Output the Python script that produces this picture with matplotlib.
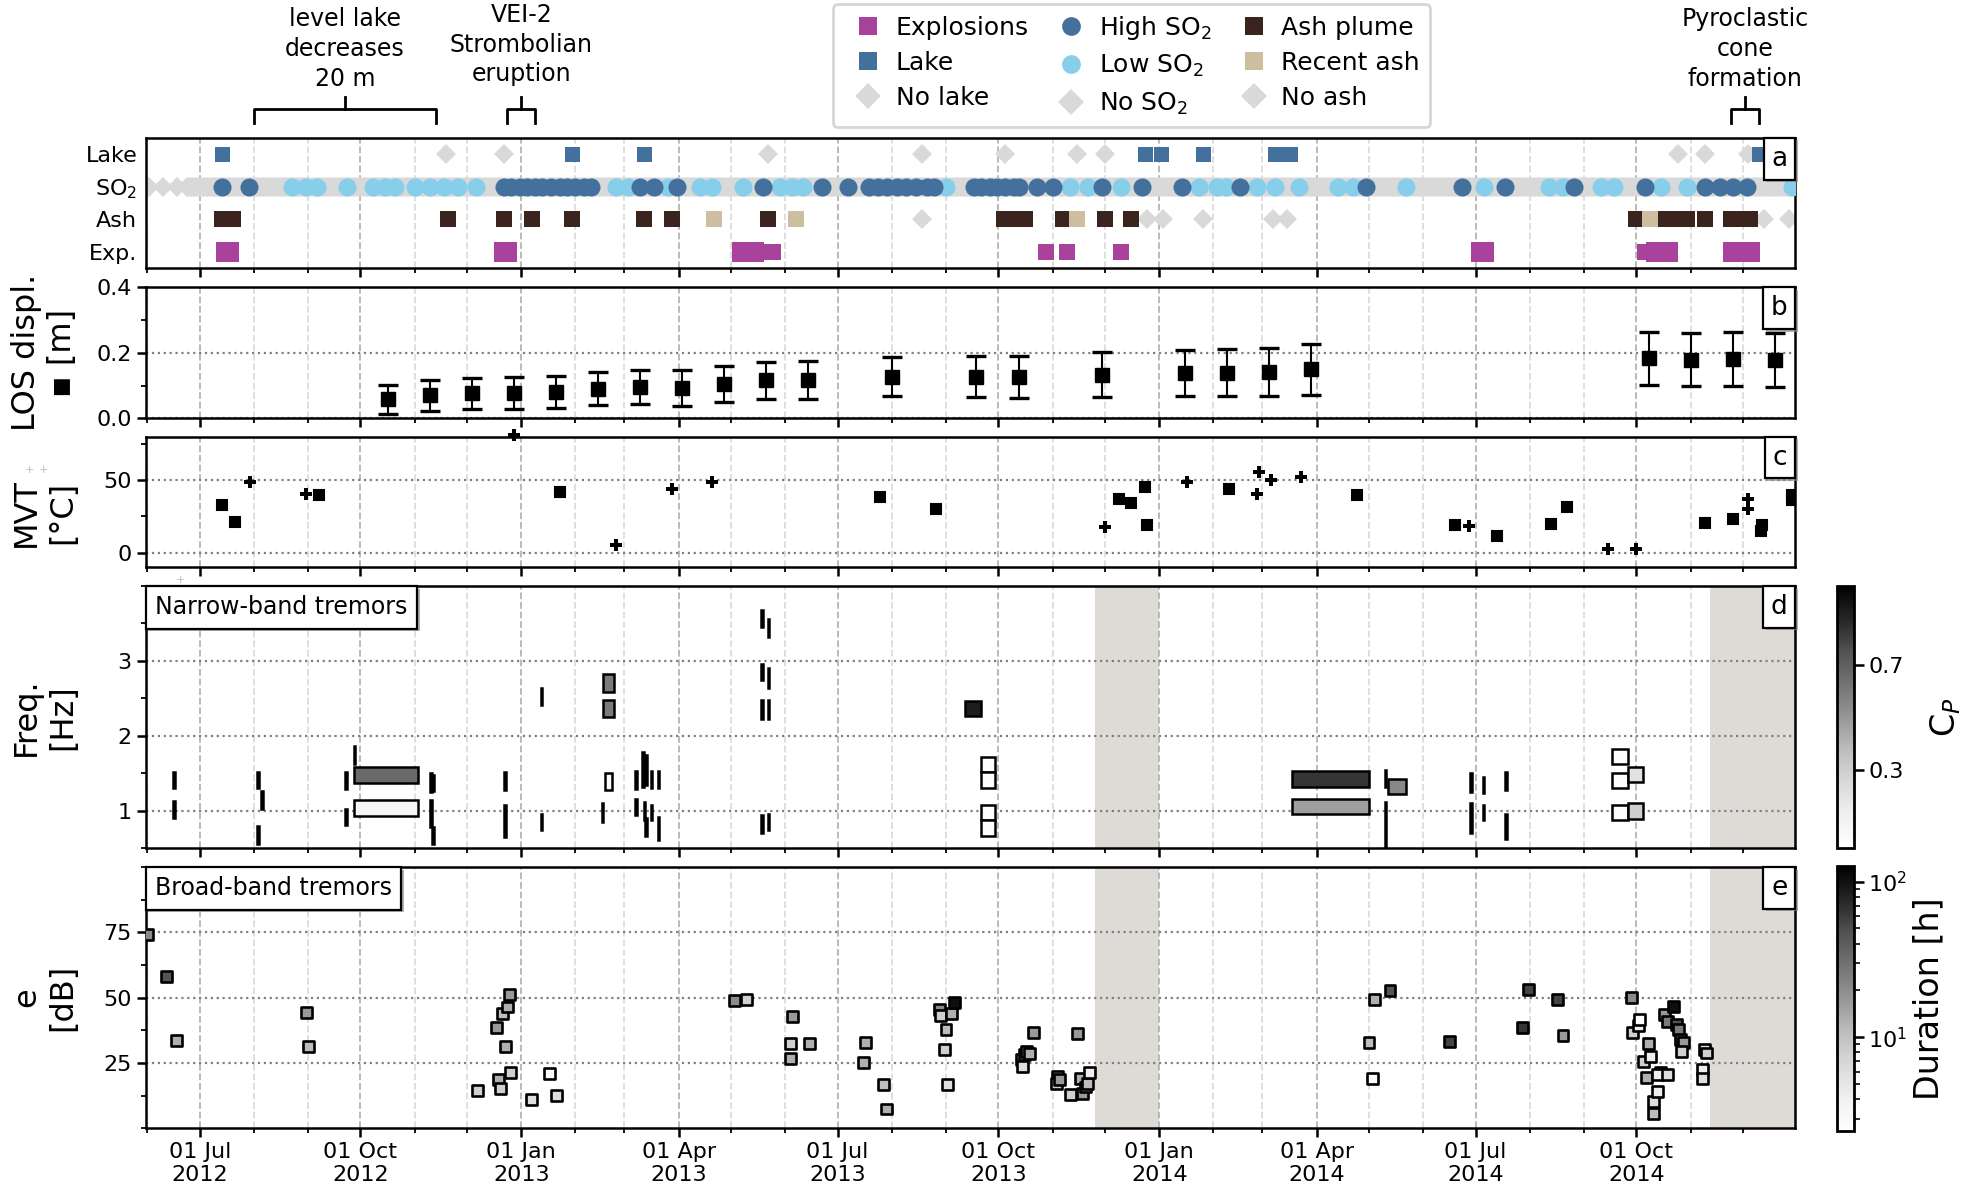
import matplotlib
matplotlib.use('Agg')
import matplotlib.pyplot as plt
import matplotlib.dates as mdates
import matplotlib.transforms as mtransforms
import matplotlib.patheffects as pe
from matplotlib.patches import Rectangle
from matplotlib.lines import Line2D
from matplotlib.colors import LogNorm, Normalize
from matplotlib.ticker import MultipleLocator
from matplotlib.offsetbox import AnchoredText
import pandas as pd

plt.rcParams['font.family'] = ['DejaVu Sans']
plt.rcParams['axes.linewidth'] = 1.8

# colours
EXP_C = '#A8429A'
BLUE = '#44709D'
SKY = '#87CEEB'
GRAY = '#D9D9D9'
ASH = '#3B241E'
TAN = '#CDBE9F'
SPAN = '#DEDBD6'

# ---------------- panel a : observations
lake_dates = ['2012-07-14', '2013-01-30', '2013-03-12', '2013-12-24', '2014-01-02',
              '2014-01-26', '2014-03-08', '2014-03-17', '2014-12-10']
no_lake_dates = ['2012-11-19', '2012-12-22', '2013-05-22', '2013-08-18', '2013-10-05',
                 '2013-11-15', '2013-12-01', '2014-10-25', '2014-11-09', '2014-12-04']
so2_high = ['2012-07-14', '2012-07-29', '2012-12-22', '2012-12-26', '2012-12-31', '2013-01-04',
            '2013-01-09', '2013-01-13', '2013-01-18', '2013-01-23', '2013-01-27', '2013-02-01',
            '2013-02-06', '2013-02-10', '2013-03-10', '2013-03-18', '2013-03-31', '2013-05-19',
            '2013-06-22', '2013-07-07', '2013-07-19', '2013-07-24', '2013-07-29', '2013-08-04',
            '2013-08-09', '2013-08-15', '2013-08-21', '2013-08-25', '2013-09-17', '2013-09-21',
            '2013-09-26', '2013-09-30', '2013-10-05', '2013-10-10', '2013-10-13', '2013-10-23',
            '2013-11-01', '2013-11-29', '2013-12-22', '2014-01-14', '2014-02-16', '2014-04-29',
            '2014-06-23', '2014-07-18', '2014-08-26', '2014-10-06', '2014-11-09', '2014-11-18',
            '2014-11-25', '2014-12-03']
so2_low = ['2012-08-23', '2012-08-31', '2012-09-06', '2012-09-23', '2012-10-08', '2012-10-15',
           '2012-10-21', '2012-11-01', '2012-11-10', '2012-11-18', '2012-11-26', '2012-12-06',
           '2013-02-24', '2013-03-03', '2013-03-26', '2013-04-13', '2013-04-20', '2013-05-08',
           '2013-05-29', '2013-06-05', '2013-06-11', '2013-09-01', '2013-11-11', '2013-11-21',
           '2013-12-10', '2014-01-24', '2014-02-03', '2014-02-08', '2014-02-26', '2014-03-08',
           '2014-03-22', '2014-04-13', '2014-04-22', '2014-05-22', '2014-07-06', '2014-08-12',
           '2014-08-20', '2014-09-11', '2014-09-18', '2014-10-15', '2014-10-30', '2014-12-29']
no_so2_early = ['2012-06-02', '2012-06-10', '2012-06-18']
no_so2_period = ('2012-06-24', '2014-12-31')   # daily "no SO2" observations
ash_plume = ['2012-07-14', '2012-07-20', '2012-11-20', '2012-12-22', '2013-01-07', '2013-01-30',
             '2013-03-12', '2013-03-28', '2013-05-22', '2013-10-04', '2013-10-11', '2013-10-16',
             '2013-11-07', '2013-12-01', '2013-12-16', '2014-10-01', '2014-10-17', '2014-10-24',
             '2014-10-30', '2014-11-09', '2014-11-24', '2014-11-30', '2014-12-05']
recent_ash = ['2013-04-21', '2013-06-07', '2013-11-15', '2014-10-09']
no_ash = ['2013-08-18', '2013-12-25', '2014-01-03', '2014-01-26', '2014-03-07', '2014-03-15',
          '2014-12-13', '2014-12-27']
exp_large = ['2012-07-16', '2012-07-18', '2012-12-22', '2012-12-24', '2013-05-07', '2013-05-14',
             '2014-07-04', '2014-07-06', '2014-10-12', '2014-10-19', '2014-11-25', '2014-12-05']
exp_small = ['2013-05-23', '2013-05-25', '2013-10-28', '2013-11-09', '2013-12-10', '2014-10-06']

# ---------------- panel b : LOS displacement
b_dates = ['2012-10-17', '2012-11-10', '2012-12-04', '2012-12-28', '2013-01-21', '2013-02-14',
           '2013-03-10', '2013-04-03', '2013-04-27', '2013-05-21', '2013-06-14', '2013-08-01',
           '2013-09-18', '2013-10-13', '2013-11-29', '2014-01-16', '2014-02-09', '2014-03-05',
           '2014-03-29', '2014-10-08', '2014-11-01', '2014-11-25', '2014-12-19']
b_los = [0.058, 0.070, 0.076, 0.077, 0.079, 0.090, 0.096, 0.092, 0.104, 0.116, 0.118, 0.127,
         0.127, 0.127, 0.133, 0.137, 0.139, 0.142, 0.149, 0.183, 0.179, 0.181, 0.177]
b_err = [0.045, 0.047, 0.047, 0.048, 0.049, 0.050, 0.052, 0.054, 0.055, 0.057, 0.058, 0.060,
         0.062, 0.064, 0.068, 0.070, 0.072, 0.074, 0.078, 0.081, 0.081, 0.081, 0.082]

# ---------------- panel c : MVT
c_sq_dates = ['2012-07-14', '2012-07-21', '2012-09-07', '2013-01-23', '2013-07-25', '2013-08-26',
              '2013-12-09', '2013-12-16', '2013-12-24', '2013-12-25', '2014-02-10', '2014-04-24',
              '2014-06-19', '2014-07-13', '2014-08-13', '2014-08-22', '2014-11-09', '2014-11-25',
              '2014-12-12', '2014-12-11', '2014-12-29', '2014-12-29']
c_sq_vals = [32.9, 21.4, 40.0, 41.8, 38.4, 30.1, 37.0, 34.2, 45.2, 18.9, 43.8, 39.5,
             19.4, 11.4, 20.1, 31.7, 20.5, 23.5, 19.4, 14.8, 39.9, 36.5]
c_plus_dates = ['2012-07-30', '2012-08-31', '2012-12-28', '2013-02-24', '2013-03-28', '2013-04-20',
                '2013-12-01', '2014-01-17', '2014-02-27', '2014-02-26', '2014-03-06', '2014-03-23',
                '2014-06-27', '2014-09-15', '2014-10-01', '2014-12-04', '2014-12-04']
c_plus_vals = [48.6, 40.6, 80.8, 5.2, 43.8, 48.4, 17.6, 48.4, 55.9, 40.4, 50.2, 52.5,
               18.2, 2.7, 2.3, 37.2, 30.3]

# ---------------- panel d : narrow-band tremors
nb_start = ['2012-06-16', '2012-06-16', '2012-08-03', '2012-08-05', '2012-08-03', '2012-09-22',
            '2012-09-22', '2012-09-27', '2012-09-27', '2012-09-27', '2012-11-10', '2012-11-11',
            '2012-11-10', '2012-11-11', '2012-12-22', '2012-12-22', '2013-01-12', '2013-01-12',
            '2013-02-16', '2013-02-18', '2013-02-17', '2013-02-17', '2013-03-07', '2013-03-07',
            '2013-03-11', '2013-03-13', '2013-03-12', '2013-03-13', '2013-03-16', '2013-03-16',
            '2013-03-20', '2013-03-20', '2013-05-18', '2013-05-22', '2013-05-18', '2013-05-22',
            '2013-05-18', '2013-05-22', '2013-05-18', '2013-05-22', '2013-09-12', '2013-09-21',
            '2013-09-21', '2013-09-21', '2013-09-21', '2014-03-18', '2014-03-18', '2014-05-10',
            '2014-05-10', '2014-05-12', '2014-06-28', '2014-06-28', '2014-07-05', '2014-07-05',
            '2014-07-18', '2014-07-18', '2014-09-17', '2014-09-17', '2014-09-17', '2014-09-26',
            '2014-09-26']
nb_end = ['2012-06-17', '2012-06-17', '2012-08-04', '2012-08-06', '2012-08-04', '2012-09-23',
          '2012-09-23', '2012-09-28', '2012-11-03', '2012-11-03', '2012-11-11', '2012-11-12',
          '2012-11-11', '2012-11-12', '2012-12-23', '2012-12-23', '2013-01-13', '2013-01-13',
          '2013-02-17', '2013-02-22', '2013-02-23', '2013-02-23', '2013-03-08', '2013-03-08',
          '2013-03-12', '2013-03-14', '2013-03-13', '2013-03-14', '2013-03-17', '2013-03-17',
          '2013-03-21', '2013-03-21', '2013-05-19', '2013-05-23', '2013-05-19', '2013-05-23',
          '2013-05-19', '2013-05-23', '2013-05-19', '2013-05-23', '2013-09-21', '2013-09-29',
          '2013-09-29', '2013-09-29', '2013-09-29', '2014-05-01', '2014-05-01', '2014-05-11',
          '2014-05-11', '2014-05-22', '2014-06-29', '2014-06-29', '2014-07-06', '2014-07-06',
          '2014-07-19', '2014-07-19', '2014-09-26', '2014-09-26', '2014-09-26', '2014-10-05',
          '2014-10-05']
nb_fmin = [1.30, 0.90, 1.30, 1.03, 0.56, 1.29, 0.81, 1.63, 1.37, 0.93, 1.25, 1.27,
           0.79, 0.56, 1.28, 0.65, 2.41, 0.74, 0.85, 1.28, 2.59, 2.25, 1.29, 0.94,
           1.32, 1.35, 0.88, 0.67, 1.30, 0.88, 1.30, 0.61, 3.45, 3.32, 2.74, 2.64,
           2.23, 2.23, 0.71, 0.74, 2.27, 1.52, 1.30, 0.88, 0.67, 1.32, 0.96, 1.32,
           0.50, 1.22, 1.25, 0.70, 1.24, 0.88, 1.28, 0.63, 1.62, 1.30, 0.88, 1.38,
           0.89]
nb_fmax = [1.52, 1.13, 1.52, 1.27, 0.80, 1.52, 1.03, 1.87, 1.58, 1.14, 1.50, 1.48,
           1.14, 0.79, 1.52, 1.08, 2.64, 0.96, 1.11, 1.51, 2.82, 2.48, 1.53, 1.16,
           1.79, 1.75, 1.12, 0.90, 1.53, 1.08, 1.53, 0.92, 3.68, 3.56, 2.96, 2.90,
           2.48, 2.48, 0.94, 0.96, 2.47, 1.72, 1.52, 1.08, 0.88, 1.53, 1.16, 1.54,
           1.12, 1.43, 1.50, 1.10, 1.45, 1.08, 1.52, 0.96, 1.83, 1.51, 1.08, 1.59,
           1.10]
nb_cp = [0.5, 0.5, 0.5, 0.5, 0.5, 0.5, 0.5, 0.5, 0.66, 0.08, 0.5, 0.5,
         0.5, 0.5, 0.5, 0.5, 0.5, 0.5, 0.5, 0.03, 0.6, 0.6, 0.5, 0.5,
         0.5, 0.5, 0.5, 0.5, 0.5, 0.5, 0.5, 0.5, 0.5, 0.5, 0.5, 0.5,
         0.5, 0.5, 0.5, 0.5, 0.9, 0.02, 0.02, 0.02, 0.02, 0.83, 0.47, 0.5,
         0.5, 0.55, 0.5, 0.5, 0.5, 0.5, 0.5, 0.5, 0.02, 0.02, 0.02, 0.2,
         0.3]

# ---------------- panel e : broad-band tremors
e_dates = ['2012-06-01', '2012-06-12', '2012-06-18', '2012-08-31', '2012-09-01', '2012-12-07',
           '2012-12-18', '2012-12-19', '2012-12-20', '2012-12-21', '2012-12-24', '2012-12-25',
           '2012-12-23', '2012-12-26', '2013-01-07', '2013-01-17', '2013-01-21', '2013-05-03',
           '2013-05-10', '2013-06-05', '2013-06-04', '2013-06-04', '2013-06-15', '2013-07-17',
           '2013-07-16', '2013-07-27', '2013-07-29', '2013-08-28', '2013-08-29', '2013-09-01',
           '2013-08-31', '2013-09-02', '2013-09-04', '2013-09-06', '2013-10-14', '2013-10-16',
           '2013-10-17', '2013-10-19', '2013-10-15', '2013-10-21', '2013-11-04', '2013-11-03',
           '2013-11-05', '2013-11-11', '2013-11-15', '2013-11-17', '2013-11-18', '2013-11-20',
           '2013-11-21', '2013-11-22', '2014-05-01', '2014-05-03', '2014-05-04', '2014-05-13',
           '2014-06-16', '2014-07-31', '2014-07-28', '2014-08-17', '2014-08-20', '2014-09-28',
           '2014-09-29', '2014-10-02', '2014-10-03', '2014-10-05', '2014-10-08', '2014-10-09',
           '2014-10-07', '2014-10-11', '2014-10-11', '2014-10-13', '2014-10-15', '2014-10-13',
           '2014-10-19', '2014-10-17', '2014-10-19', '2014-10-22', '2014-10-24', '2014-10-25',
           '2014-10-26', '2014-10-28', '2014-10-27', '2014-11-09', '2014-11-10', '2014-11-08',
           '2014-11-08']
e_db = [74.0, 58.1, 33.7, 44.2, 31.2, 14.5, 38.5, 18.6, 15.1, 43.8, 46.4, 51.3,
        31.2, 21.4, 11.2, 20.8, 12.4, 49.0, 49.1, 42.6, 32.4, 26.8, 32.4, 32.7,
        25.0, 16.9, 7.4, 45.3, 43.3, 37.8, 30.1, 16.9, 44.0, 48.1, 26.5, 28.2,
        29.5, 28.6, 23.7, 36.5, 19.9, 17.3, 18.6, 12.8, 36.2, 19.2, 13.5, 15.8,
        17.3, 21.2, 32.7, 19.2, 49.1, 52.8, 33.1, 53.0, 38.5, 49.1, 35.6, 50.0,
        36.5, 39.4, 41.7, 25.6, 32.3, 27.6, 19.5, 10.3, 5.8, 14.1, 21.4, 20.5,
        20.5, 43.6, 41.0, 46.5, 39.7, 37.8, 34.0, 33.0, 29.5, 30.1, 28.8, 22.4,
        19.2]
e_dur = [21, 45, 13, 17, 11, 8, 17, 13, 8, 11, 13, 17,
         13, 8, 6, 2.6, 6, 21, 8, 17, 8, 13, 13, 13,
         13, 11, 13, 21, 8, 11, 8, 6, 13, 104, 11, 13,
         17, 13, 6, 17, 13, 8, 17, 8, 17, 13, 17, 13,
         11, 4.3, 11, 2.6, 13, 45, 55, 55, 65, 55, 17, 21,
         8, 4.3, 2.6, 8, 13, 4.3, 13, 6, 11, 4.3, 6, 4.3,
         6, 17, 26, 104, 45, 26, 45, 17, 8, 6, 8, 4.3,
         6]

# shaded (no data) periods in d and e
gap_start = ['2013-11-25', '2014-11-12']
gap_end = ['2014-01-01', '2014-12-31']

# annotations above panel a
ann_text = ['level lake\ndecreases\n20 m', 'VEI-2\nStrombolian\neruption',
            'Pyroclastic\ncone\nformation']
ann_center = ['2012-09-22', '2013-01-01', '2014-12-02']
ann_left = ['2012-08-01', '2012-12-24', '2014-11-24']
ann_right = ['2012-11-13', '2013-01-09', '2014-12-10']
ann_y = [0.959, 0.9625, 0.959]

xlim = (pd.Timestamp('2012-05-31'), pd.Timestamp('2014-12-31'))

fig = plt.figure(figsize=(19.61, 11.91), dpi=100)
L, W = 0.0742, 0.8414
ax_a = fig.add_axes([L, 0.7750, W, 0.1094])
ax_b = fig.add_axes([L, 0.6488, W, 0.1100], sharex=ax_a)
ax_c = fig.add_axes([L, 0.5237, W, 0.1097], sharex=ax_a)
ax_d = fig.add_axes([L, 0.2877, W, 0.2205], sharex=ax_a)
ax_e = fig.add_axes([L, 0.0526, W, 0.2196], sharex=ax_a)
cax_d = fig.add_axes([0.9370, 0.2877, 0.00826, 0.2205])
cax_e = fig.add_axes([0.9370, 0.0504, 0.00826, 0.2225])
axes = [ax_a, ax_b, ax_c, ax_d, ax_e]

td = pd.to_datetime

# panel a
no_so2_days = list(td(no_so2_early)) + list(pd.date_range(*no_so2_period, freq='D'))
ax_a.plot(no_so2_days, [2] * len(no_so2_days), 'D', color=GRAY, ms=9.9, mew=0, zorder=2)
ax_a.plot(td(no_lake_dates), [3] * len(no_lake_dates), 'D', color=GRAY, ms=9.9, mew=0, zorder=2)
ax_a.plot(td(lake_dates), [3] * len(lake_dates), 's', color=BLUE, ms=10.8, mew=0, zorder=3)
ax_a.plot(td(so2_low), [2] * len(so2_low), 'o', color=SKY, ms=13, mew=0, zorder=3)
ax_a.plot(td(so2_high), [2] * len(so2_high), 'o', color=BLUE, ms=13, mew=0, zorder=4)
ax_a.plot(td(no_ash), [1] * len(no_ash), 'D', color=GRAY, ms=9.9, mew=0, zorder=2)
ax_a.plot(td(ash_plume), [1] * len(ash_plume), 's', color=ASH, ms=11, mew=0, zorder=3)
ax_a.plot(td(recent_ash), [1] * len(recent_ash), 's', color=TAN, ms=11, mew=0, zorder=3)
ax_a.plot(td(exp_small), [0] * len(exp_small), 's', color=EXP_C, ms=11, mew=0, zorder=3)
ax_a.plot(td(exp_large), [0] * len(exp_large), 's', color=EXP_C, ms=14.4, mew=0, zorder=3)
ax_a.set_ylim(-0.5, 3.5)
ax_a.set_yticks([3, 2, 1, 0])
ax_a.set_yticklabels(['Lake', 'SO$_2$', 'Ash', 'Exp.'])
ax_a.tick_params(axis='y', length=0, labelsize=16, pad=6)

# panel b
ax_b.errorbar(td(b_dates), b_los, yerr=b_err, fmt='s', color='k', ms=10.5, capsize=7,
              capthick=2.4, elinewidth=1.5, zorder=3)
ax_b.set_ylim(0, 0.4)
ax_b.set_yticks([0.0, 0.2, 0.4])
ax_b.yaxis.set_minor_locator(MultipleLocator(0.1))
ax_b.set_ylabel('LOS displ.\n\u25aa [m]', fontsize=23)

# panel c
ax_c.plot(td(c_sq_dates), c_sq_vals, 's', color='k', ms=6.5, mew=1.5, zorder=3)
ax_c.plot(td(c_plus_dates), c_plus_vals, 'P', color='k', ms=8, mew=0, zorder=3, clip_on=False)
ax_c.set_ylim(-10, 80)
ax_c.set_yticks([0, 50])
ax_c.yaxis.set_minor_locator(MultipleLocator(25))
ax_c.set_ylabel('MVT\n[°C]', fontsize=23)

# panel d
cmap = plt.get_cmap('Greys')
norm_d = Normalize(0, 1)
for s, e, f0, f1, cp in zip(nb_start, nb_end, nb_fmin, nb_fmax, nb_cp):
    x0 = mdates.date2num(pd.Timestamp(s))
    x1 = mdates.date2num(pd.Timestamp(e))
    ax_d.add_patch(Rectangle((x0, f0), x1 - x0, f1 - f0, facecolor=cmap(norm_d(cp)),
                             edgecolor='k', lw=1.8, zorder=3))
ax_d.set_ylim(0.5, 4.0)
ax_d.set_yticks([1, 2, 3])
ax_d.yaxis.set_minor_locator(MultipleLocator(0.5))
ax_d.set_ylabel('Freq.\n[Hz]', fontsize=23)

# panel e
norm_e = LogNorm(2.5, 126)
sc = ax_e.scatter(td(e_dates), e_db, c=e_dur, cmap='Greys', norm=norm_e, marker='s',
                  s=62, edgecolors='k', linewidths=1.9, zorder=3)
ax_e.set_ylim(0, 100)
ax_e.set_yticks([25, 50, 75])
ax_e.yaxis.set_minor_locator(MultipleLocator(12.5))
ax_e.set_ylabel('e\n[dB]', fontsize=23)

for ax in (ax_d, ax_e):
    for s, e in zip(gap_start, gap_end):
        ax.axvspan(pd.Timestamp(s), pd.Timestamp(e), color=SPAN, lw=0, zorder=0.2)

# common x axis
for ax in axes:
    ax.set_xlim(*xlim)
    ax.xaxis.set_major_locator(mdates.MonthLocator(bymonth=[1, 4, 7, 10]))
    ax.xaxis.set_minor_locator(mdates.MonthLocator())
    ax.xaxis.set_major_formatter(mdates.DateFormatter('%d %b\n%Y'))
    ax.set_axisbelow(True)
    ax.grid(which='major', axis='x', ls='--', color='#b4b4b4', lw=1.3)
    ax.grid(which='minor', axis='x', ls='--', color='#dcdcdc', lw=1.3)
    if ax is not ax_a:
        ax.grid(which='major', axis='y', ls=':', color='#808080', lw=1.6)
        ax.tick_params(axis='y', which='major', direction='out', length=6.5, width=1.8,
                       labelsize=16)
        ax.tick_params(axis='y', which='minor', direction='out', length=3.5, width=1.3)
        ax.yaxis.set_label_coords(-0.041, 0.5)
    ax.tick_params(axis='x', which='major', direction='out', length=6.5, width=1.8,
                   labelsize=16)
    ax.tick_params(axis='x', which='minor', direction='out', length=3.5, width=1.3)
    if ax is not ax_e:
        ax.tick_params(axis='x', which='both', labelbottom=False)
ax_c.yaxis.set_label_coords(-0.041, 0.42)


def corner_box(ax, txt, loc, size, pad):
    at = AnchoredText(txt, loc=loc, prop=dict(size=size), frameon=True, pad=pad, borderpad=0.0)
    at.patch.set_edgecolor('k')
    at.patch.set_linewidth(1.6)
    at.patch.set_path_effects([pe.SimplePatchShadow(offset=(2, -2), shadow_rgbFace='0.55', alpha=0.7),
                               pe.Normal()])
    at.set_zorder(10)
    ax.add_artist(at)


for ax, letter in zip(axes, 'abcde'):
    corner_box(ax, letter, 'upper right', 19, 0.3)
corner_box(ax_d, 'Narrow-band tremors', 'upper left', 17, 0.4)
corner_box(ax_e, 'Broad-band tremors', 'upper left', 17, 0.4)

# colorbars
sm = plt.cm.ScalarMappable(norm=norm_d, cmap=cmap)
cb_d = fig.colorbar(sm, cax=cax_d, ticks=[0.3, 0.7])
cb_d.set_label('C$_P$', fontsize=24, labelpad=18)
cb_e = fig.colorbar(sc, cax=cax_e)
cb_e.set_label('Duration [h]', fontsize=24, labelpad=4)
for cb in (cb_d, cb_e):
    cb.outline.set_linewidth(2)
    cb.ax.tick_params(which='major', labelsize=16, length=7, width=1.8)
    cb.ax.tick_params(which='minor', length=4, width=1.2)

# legend
leg_handles = [
    Line2D([], [], ls='none', marker='s', ms=13.5, mew=0, color=EXP_C, label='Explosions'),
    Line2D([], [], ls='none', marker='s', ms=13.5, mew=0, color=BLUE, label='Lake'),
    Line2D([], [], ls='none', marker='D', ms=13.5, mew=0, color=GRAY, label='No lake'),
    Line2D([], [], ls='none', marker='o', ms=13.5, mew=0, color=BLUE, label='High SO$_2$'),
    Line2D([], [], ls='none', marker='o', ms=13.5, mew=0, color=SKY, label='Low SO$_2$'),
    Line2D([], [], ls='none', marker='D', ms=13.5, mew=0, color=GRAY, label='No SO$_2$'),
    Line2D([], [], ls='none', marker='s', ms=13.5, mew=0, color=ASH, label='Ash plume'),
    Line2D([], [], ls='none', marker='s', ms=13.5, mew=0, color=TAN, label='Recent ash'),
    Line2D([], [], ls='none', marker='D', ms=13.5, mew=0, color=GRAY, label='No ash'),
]
leg = fig.legend(handles=leg_handles, ncol=3, loc='upper center', bbox_to_anchor=(0.577, 0.999),
                 fontsize=18, handlelength=2.0, handletextpad=0.1, columnspacing=0.7,
                 labelspacing=0.45, borderpad=0.4, borderaxespad=0.1)
leg.get_frame().set_linewidth(2)

# brackets and annotations above panel a
tr = mtransforms.blended_transform_factory(ax_a.transData, fig.transFigure)
for txt, xc, x0, x1, yt in zip(ann_text, ann_center, ann_left, ann_right, ann_y):
    xc_n, x0_n, x1_n = [mdates.date2num(pd.Timestamp(v)) for v in (xc, x0, x1)]
    ax_a.plot([x0_n, x0_n, x1_n, x1_n], [0.8967, 0.9085, 0.9085, 0.8967], transform=tr,
              color='k', lw=2, clip_on=False)
    ax_a.plot([xc_n, xc_n], [0.9085, 0.9186], transform=tr, color='k', lw=2, clip_on=False)
    ax_a.text(xc_n, yt, txt, transform=tr, ha='center', va='center', fontsize=17,
              linespacing=1.3)

# small stray marks
fig.text(0.0148, 0.6054, '+', fontsize=8, color='#bbbbbb', ha='center', va='center')
fig.text(0.0224, 0.6054, '+', fontsize=8, color='#bbbbbb', ha='center', va='center')
fig.text(0.0918, 0.513, '+', fontsize=8, color='#bbbbbb', ha='center', va='center')

fig.savefig('out.png', dpi=100)
